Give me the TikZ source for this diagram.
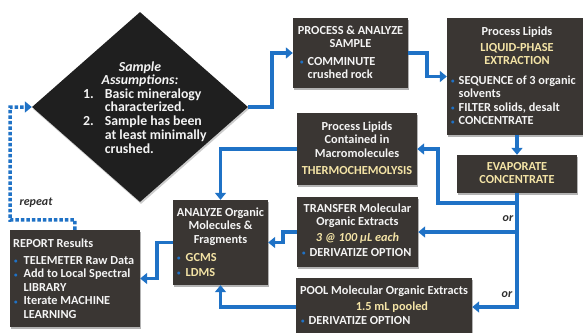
\documentclass[tikz,border=0pt]{standalone}
\usepackage{fontspec}
\setmainfont{Carlito}
\usetikzlibrary{arrows.meta,shapes.geometric,shadows,fit}
\definecolor{boxc}{HTML}{3A3633}
\definecolor{arrc}{HTML}{1F72C6}
\definecolor{ylw}{HTML}{F4E4A6}
\definecolor{txt}{HTML}{F4F4F4}
\definecolor{lbl}{HTML}{2E2E2E}
\newcommand{\bul}{\textcolor{arrc}{\raisebox{0.5pt}{\scriptsize\textbullet}}}
\begin{document}
\begin{tikzpicture}[x=1pt,y=-1pt,
  font=\fontsize{12.3}{13.5}\selectfont\bfseries, text=txt,
  box/.style={fill=boxc, draw=none, inner sep=0pt,
    drop shadow={shadow xshift=1pt,shadow yshift=-2pt,opacity=0.6}},
  tx/.style={inner sep=0pt, anchor=base west},
  txc/.style={inner sep=0pt, anchor=base},
  arr/.style={draw=arrc, line width=3.5pt, -{Triangle[width=11pt,length=7pt]}},
  ln/.style={draw=arrc, line width=3.5pt},
  rpt/.style={draw=arrc, line width=3.5pt, dash pattern=on 3.5pt off 2pt, -{Triangle[width=11pt,length=7pt]}},
  dtx/.style={inner sep=0pt, font=\fontsize{13.8}{13.7}\selectfont\bfseries},
  lab/.style={inner sep=0pt, text=lbl, font=\fontsize{12}{13}\selectfont\bfseries\itshape}]
\useasboundingbox (0,0) rectangle (583,332);
% shapes
\node[diamond, fill=black!88, minimum width=216pt, minimum height=190pt, inner sep=0pt,
  drop shadow={shadow xshift=1pt,shadow yshift=-2pt,opacity=0.4}] (dia) at (140,107) {};
\node[box, fit={(293,18) (408,88)}] (psa) {};
\node[box, fit={(447,18) (583,135)}] (lip) {};
\node[box, fit={(457,155) (577,193)}] (evap) {};
\node[box, fit={(297,113) (417,185)}] (plc) {};
\node[box, fit={(297,197) (418,267)}] (tr) {};
\node[box, fit={(296,278) (472,336)}] (pool) {};
\node[box, fit={(173,200) (268,285)}] (ana) {};
\node[box, fit={(10,230) (140,327)}] (rep) {};
% connectors
\draw[arr] (dia.east) -- ++(24,0) |- (psa.west);
\draw[arr] (psa.east) -- ++(19,0) |- (lip.west);
\draw[arr] (evap.north |- lip.south) -- (evap.north);
\coordinate (j1) at (517,203);
\draw[arr] (evap.south) -- (j1) -- ++(-79,0) |- (plc.east);
\draw[arr] (evap.south) |- (pool.east);
\draw[arr] (evap.south |- tr.east) -- (tr.east);
\draw[arr] (plc.west) -| (ana.north);
\draw[arr] (tr.west) -- ++(-14,0) |- (ana.east);
\draw[arr] (pool.west) -| (ana.south);
\draw[arr] (ana.west) -- ++(-16,0) |- (rep.east);
\draw[rpt] ([xshift=65pt]rep.north west) -- ++(0,-10) -- (10,220) |- (dia.west);
% labels
\node[lab] (r1) at (36,203) {repeat};
\node[lab] (o1) at (508,219) {or};
\node[lab] (o2) at (507,295) {or};
% diamond text
\node[dtx, anchor=base] (d1) at (140,71) {\begin{tabular}[t]{@{}c@{}}\itshape Sample\\\itshape Assumptions:\end{tabular}};
\node[dtx, anchor=base west] (d2) at (83,98) {\begin{tabular}[t]{@{}l@{\hspace{11pt}}l@{}}1. & Basic mineralogy\\ & characterized.\\2. & Sample has been\\ & at least minimally\\ & crushed.\end{tabular}};
% PSA
\node[txc] (t1) at (350.5,34) {\begin{tabular}[t]{@{}c@{}}PROCESS \& ANALYZE\\SAMPLE\end{tabular}};
\node[tx] (t2) at (300,65) {\begin{tabular}[t]{@{}l@{\hspace{4pt}}l@{}}\bul & COMMINUTE\\ & crushed rock\end{tabular}};
% Lipids
\node[txc] (t3) at (517,35) {Process Lipids};
\node[txc, text=ylw] (t4) at (517,51) {\begin{tabular}[t]{@{}c@{}}LIQUID-PHASE\\EXTRACTION\end{tabular}};
\node[tx] (t5) at (451,84) {\begin{tabular}[t]{@{}l@{\hspace{4pt}}l@{}}\bul & SEQUENCE of 3 organic\\ & solvents\\\bul & FILTER solids, desalt\\\bul & CONCENTRATE\end{tabular}};
% Evap
\node[txc, text=ylw] (t6) at (517,170) {\begin{tabular}[t]{@{}c@{}}EVAPORATE\\CONCENTRATE\end{tabular}};
% PLC
\node[txc] (t7) at (357,130) {\begin{tabular}[t]{@{}c@{}}Process Lipids\\Contained in\\Macromolecules\end{tabular}};
\node[txc, text=ylw] (t8) at (357,174) {THERMOCHEMOLYSIS};
% Transfer
\node[txc] (t9) at (357.5,212) {\begin{tabular}[t]{@{}c@{}}TRANSFER Molecular\\Organic Extracts\end{tabular}};
\node[txc, text=ylw] (t10) at (357.5,241) {\itshape 3 @ 100 μL each};
\node[tx] (t11) at (302,256) {\begin{tabular}[t]{@{}l@{\hspace{4pt}}l@{}}\bul & DERIVATIZE OPTION\end{tabular}};
% Pool
\node[txc] (t12) at (384,294) {POOL Molecular Organic Extracts};
\node[txc, text=ylw] (t13) at (392,310) {1.5 mL pooled};
\node[tx] (t14) at (301,324) {\begin{tabular}[t]{@{}l@{\hspace{4pt}}l@{}}\bul & DERIVATIZE OPTION\end{tabular}};
% Analyze
\node[txc] (t15) at (220.5,216) {\begin{tabular}[t]{@{}c@{}}ANALYZE Organic\\Molecules \&\\Fragments\end{tabular}};
\node[tx] (t16) at (177,261) {\begin{tabular}[t]{@{}l@{\hspace{5pt}}l@{}}\bul & \textcolor{ylw}{GCMS}\\[1.5pt]\bul & \textcolor{ylw}{LDMS}\end{tabular}};
% Report
\node[tx] (t17) at (13,247) {REPORT Results};
\node[tx] (t18) at (14,264) {\begin{tabular}[t]{@{}l@{\hspace{6pt}}l@{}}\bul & TELEMETER Raw Data\\\bul & Add to Local Spectral\\ & LIBRARY\\\bul & Iterate MACHINE\\ & LEARNING\end{tabular}};
\end{tikzpicture}
\end{document}
